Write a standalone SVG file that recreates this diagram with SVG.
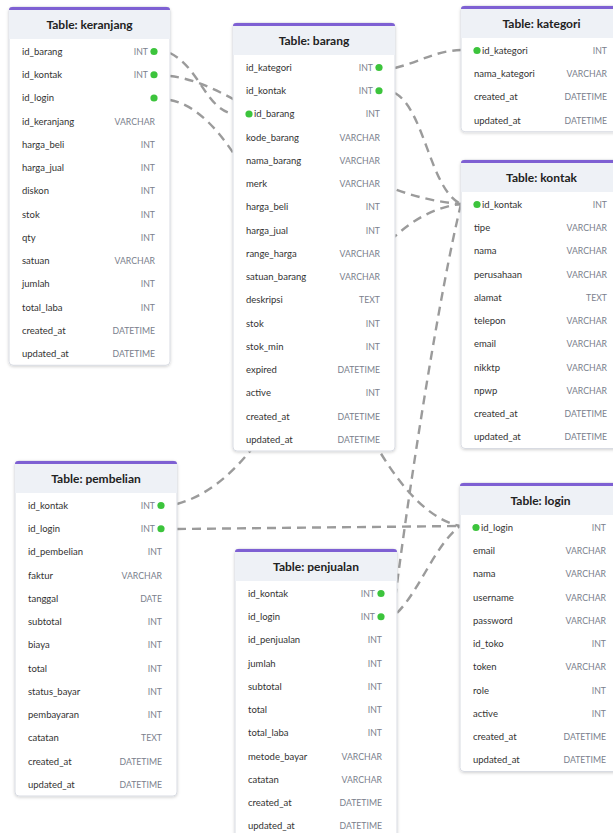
<svg xmlns="http://www.w3.org/2000/svg" width="613" height="833" viewBox="0 0 613 833">
<defs>
<filter id="sh" x="-10%" y="-10%" width="120%" height="120%"><feDropShadow dx="0" dy="1" stdDeviation="1.5" flood-color="#000" flood-opacity="0.18"/></filter>
<style>
.box{fill:#fff;stroke:#d8dbe2;stroke-width:1;filter:url(#sh)}
.hd{fill:#eef1f6}
.bar{fill:#7e60d3}
.h{font-family:Lato,"Open Sans",sans-serif;font-weight:700;font-size:12px;fill:#222;text-anchor:middle}
.n{font-family:Lato,"Open Sans",sans-serif;font-size:9.5px;fill:#333}
.t{font-family:Lato,"Open Sans",sans-serif;font-size:8.7px;fill:#7a808c;text-anchor:end}
.pk{fill:#3cc43c}
.c{fill:none;stroke:#9b9b9b;stroke-width:2.4;stroke-dasharray:9 6}
</style>
</defs>
<rect width="613" height="833" fill="#fff"/>
<g id="connectors">
<path class="c" d="M170,53 C200,68 205,108 233,114"/>
<path class="c" d="M170,76 C250,85 340,195 461,204"/>
<path class="c" d="M170,100 C280,120 340,500 460,526"/>
<path class="c" d="M395,68 C425,60 435,51 461,50"/>
<path class="c" d="M395,93 C425,110 430,190 461,204"/>
<path class="c" d="M177,504 C300,470 330,220 461,204"/>
<path class="c" d="M177,529 L460,526"/>
<path class="c" d="M461,204 C440,290 410,480 395,600"/>
<path class="c" d="M397,613 C420,590 435,545 460,526"/>
</g>

<g id="keranjang" transform="translate(9,7)">
<rect class="box" x="0" y="0" width="161" height="358.25" rx="4"/>
<path class="hd" d="M0,4 a4,4 0 0 1 4,-4 h153 a4,4 0 0 1 4,4 v28 h-161z"/>
<path class="bar" d="M0,3 a3,3 0 0 1 3,-3 h155 a3,3 0 0 1 3,3 z"/>
<text class="h" x="80.5" y="22">Table: keranjang</text>
<text class="n" x="13" y="47.8">id_barang</text><text class="t" x="139" y="47.8">INT</text><circle class="pk" cx="145" cy="44.5" r="3.6"/>
<text class="n" x="13" y="71.05">id_kontak</text><text class="t" x="139" y="71.05">INT</text><circle class="pk" cx="145" cy="67.75" r="3.6"/>
<text class="n" x="13" y="94.3">id_login</text><circle class="pk" cx="145" cy="91" r="3.6"/>
<text class="n" x="13" y="117.55">id_keranjang</text><text class="t" x="146" y="117.55">VARCHAR</text>
<text class="n" x="13" y="140.8">harga_beli</text><text class="t" x="146" y="140.8">INT</text>
<text class="n" x="13" y="164.05">harga_jual</text><text class="t" x="146" y="164.05">INT</text>
<text class="n" x="13" y="187.3">diskon</text><text class="t" x="146" y="187.3">INT</text>
<text class="n" x="13" y="210.55">stok</text><text class="t" x="146" y="210.55">INT</text>
<text class="n" x="13" y="233.8">qty</text><text class="t" x="146" y="233.8">INT</text>
<text class="n" x="13" y="257.05">satuan</text><text class="t" x="146" y="257.05">VARCHAR</text>
<text class="n" x="13" y="280.3">jumlah</text><text class="t" x="146" y="280.3">INT</text>
<text class="n" x="13" y="303.55">total_laba</text><text class="t" x="146" y="303.55">INT</text>
<text class="n" x="13" y="326.8">created_at</text><text class="t" x="146" y="326.8">DATETIME</text>
<text class="n" x="13" y="350.05">updated_at</text><text class="t" x="146" y="350.05">DATETIME</text>
</g>

<g id="barang" transform="translate(233,23)">
<rect class="box" x="0" y="0" width="162" height="428" rx="4"/>
<path class="hd" d="M0,4 a4,4 0 0 1 4,-4 h154 a4,4 0 0 1 4,4 v28 h-162z"/>
<path class="bar" d="M0,3 a3,3 0 0 1 3,-3 h156 a3,3 0 0 1 3,3 z"/>
<text class="h" x="81" y="22">Table: barang</text>
<text class="n" x="13" y="47.8">id_kategori</text><text class="t" x="140" y="47.8">INT</text><circle class="pk" cx="146" cy="44.5" r="3.6"/>
<text class="n" x="13" y="71.05">id_kontak</text><text class="t" x="140" y="71.05">INT</text><circle class="pk" cx="146" cy="67.75" r="3.6"/>
<circle class="pk" cx="16" cy="91" r="3.6"/><text class="n" x="21" y="94.3">id_barang</text><text class="t" x="147" y="94.3">INT</text>
<text class="n" x="13" y="117.55">kode_barang</text><text class="t" x="147" y="117.55">VARCHAR</text>
<text class="n" x="13" y="140.8">nama_barang</text><text class="t" x="147" y="140.8">VARCHAR</text>
<text class="n" x="13" y="164.05">merk</text><text class="t" x="147" y="164.05">VARCHAR</text>
<text class="n" x="13" y="187.3">harga_beli</text><text class="t" x="147" y="187.3">INT</text>
<text class="n" x="13" y="210.55">harga_jual</text><text class="t" x="147" y="210.55">INT</text>
<text class="n" x="13" y="233.8">range_harga</text><text class="t" x="147" y="233.8">VARCHAR</text>
<text class="n" x="13" y="257.05">satuan_barang</text><text class="t" x="147" y="257.05">VARCHAR</text>
<text class="n" x="13" y="280.3">deskripsi</text><text class="t" x="147" y="280.3">TEXT</text>
<text class="n" x="13" y="303.55">stok</text><text class="t" x="147" y="303.55">INT</text>
<text class="n" x="13" y="326.8">stok_min</text><text class="t" x="147" y="326.8">INT</text>
<text class="n" x="13" y="350.05">expired</text><text class="t" x="147" y="350.05">DATETIME</text>
<text class="n" x="13" y="373.3">active</text><text class="t" x="147" y="373.3">INT</text>
<text class="n" x="13" y="396.55">created_at</text><text class="t" x="147" y="396.55">DATETIME</text>
<text class="n" x="13" y="419.8">updated_at</text><text class="t" x="147" y="419.8">DATETIME</text>
</g>

<g id="kategori" transform="translate(461,6)">
<rect class="box" x="0" y="0" width="161" height="125.75" rx="4"/>
<path class="hd" d="M0,4 a4,4 0 0 1 4,-4 h153 a4,4 0 0 1 4,4 v28 h-161z"/>
<path class="bar" d="M0,3 a3,3 0 0 1 3,-3 h155 a3,3 0 0 1 3,3 z"/>
<text class="h" x="80.5" y="22">Table: kategori</text>
<circle class="pk" cx="16" cy="44.5" r="3.6"/><text class="n" x="21" y="47.8">id_kategori</text><text class="t" x="146" y="47.8">INT</text>
<text class="n" x="13" y="71.05">nama_kategori</text><text class="t" x="146" y="71.05">VARCHAR</text>
<text class="n" x="13" y="94.3">created_at</text><text class="t" x="146" y="94.3">DATETIME</text>
<text class="n" x="13" y="117.55">updated_at</text><text class="t" x="146" y="117.55">DATETIME</text>
</g>

<g id="kontak" transform="translate(461,160)">
<rect class="box" x="0" y="0" width="161" height="288.5" rx="4"/>
<path class="hd" d="M0,4 a4,4 0 0 1 4,-4 h153 a4,4 0 0 1 4,4 v28 h-161z"/>
<path class="bar" d="M0,3 a3,3 0 0 1 3,-3 h155 a3,3 0 0 1 3,3 z"/>
<text class="h" x="80.5" y="22">Table: kontak</text>
<circle class="pk" cx="16" cy="44.5" r="3.6"/><text class="n" x="21" y="47.8">id_kontak</text><text class="t" x="146" y="47.8">INT</text>
<text class="n" x="13" y="71.05">tipe</text><text class="t" x="146" y="71.05">VARCHAR</text>
<text class="n" x="13" y="94.3">nama</text><text class="t" x="146" y="94.3">VARCHAR</text>
<text class="n" x="13" y="117.55">perusahaan</text><text class="t" x="146" y="117.55">VARCHAR</text>
<text class="n" x="13" y="140.8">alamat</text><text class="t" x="146" y="140.8">TEXT</text>
<text class="n" x="13" y="164.05">telepon</text><text class="t" x="146" y="164.05">VARCHAR</text>
<text class="n" x="13" y="187.3">email</text><text class="t" x="146" y="187.3">VARCHAR</text>
<text class="n" x="13" y="210.55">nikktp</text><text class="t" x="146" y="210.55">VARCHAR</text>
<text class="n" x="13" y="233.8">npwp</text><text class="t" x="146" y="233.8">VARCHAR</text>
<text class="n" x="13" y="257.05">created_at</text><text class="t" x="146" y="257.05">DATETIME</text>
<text class="n" x="13" y="280.3">updated_at</text><text class="t" x="146" y="280.3">DATETIME</text>
</g>

<g id="pembelian" transform="translate(15,461)">
<rect class="box" x="0" y="0" width="162" height="335" rx="4"/>
<path class="hd" d="M0,4 a4,4 0 0 1 4,-4 h154 a4,4 0 0 1 4,4 v28 h-162z"/>
<path class="bar" d="M0,3 a3,3 0 0 1 3,-3 h156 a3,3 0 0 1 3,3 z"/>
<text class="h" x="81" y="22">Table: pembelian</text>
<text class="n" x="13" y="47.8">id_kontak</text><text class="t" x="140" y="47.8">INT</text><circle class="pk" cx="146" cy="44.5" r="3.6"/>
<text class="n" x="13" y="71.05">id_login</text><text class="t" x="140" y="71.05">INT</text><circle class="pk" cx="146" cy="67.75" r="3.6"/>
<text class="n" x="13" y="94.3">id_pembelian</text><text class="t" x="147" y="94.3">INT</text>
<text class="n" x="13" y="117.55">faktur</text><text class="t" x="147" y="117.55">VARCHAR</text>
<text class="n" x="13" y="140.8">tanggal</text><text class="t" x="147" y="140.8">DATE</text>
<text class="n" x="13" y="164.05">subtotal</text><text class="t" x="147" y="164.05">INT</text>
<text class="n" x="13" y="187.3">biaya</text><text class="t" x="147" y="187.3">INT</text>
<text class="n" x="13" y="210.55">total</text><text class="t" x="147" y="210.55">INT</text>
<text class="n" x="13" y="233.8">status_bayar</text><text class="t" x="147" y="233.8">INT</text>
<text class="n" x="13" y="257.05">pembayaran</text><text class="t" x="147" y="257.05">INT</text>
<text class="n" x="13" y="280.3">catatan</text><text class="t" x="147" y="280.3">TEXT</text>
<text class="n" x="13" y="303.55">created_at</text><text class="t" x="147" y="303.55">DATETIME</text>
<text class="n" x="13" y="326.8">updated_at</text><text class="t" x="147" y="326.8">DATETIME</text>
</g>

<g id="penjualan" transform="translate(235,549)">
<rect class="box" x="0" y="0" width="162" height="288.5" rx="4"/>
<path class="hd" d="M0,4 a4,4 0 0 1 4,-4 h154 a4,4 0 0 1 4,4 v28 h-162z"/>
<path class="bar" d="M0,3 a3,3 0 0 1 3,-3 h156 a3,3 0 0 1 3,3 z"/>
<text class="h" x="81" y="22">Table: penjualan</text>
<text class="n" x="13" y="47.8">id_kontak</text><text class="t" x="140" y="47.8">INT</text><circle class="pk" cx="146" cy="44.5" r="3.6"/>
<text class="n" x="13" y="71.05">id_login</text><text class="t" x="140" y="71.05">INT</text><circle class="pk" cx="146" cy="67.75" r="3.6"/>
<text class="n" x="13" y="94.3">id_penjualan</text><text class="t" x="147" y="94.3">INT</text>
<text class="n" x="13" y="117.55">jumlah</text><text class="t" x="147" y="117.55">INT</text>
<text class="n" x="13" y="140.8">subtotal</text><text class="t" x="147" y="140.8">INT</text>
<text class="n" x="13" y="164.05">total</text><text class="t" x="147" y="164.05">INT</text>
<text class="n" x="13" y="187.3">total_laba</text><text class="t" x="147" y="187.3">INT</text>
<text class="n" x="13" y="210.55">metode_bayar</text><text class="t" x="147" y="210.55">VARCHAR</text>
<text class="n" x="13" y="233.8">catatan</text><text class="t" x="147" y="233.8">VARCHAR</text>
<text class="n" x="13" y="257.05">created_at</text><text class="t" x="147" y="257.05">DATETIME</text>
<text class="n" x="13" y="280.3">updated_at</text><text class="t" x="147" y="280.3">DATETIME</text>
</g>

<g id="login" transform="translate(460,483)">
<rect class="box" x="0" y="0" width="161" height="288.5" rx="4"/>
<path class="hd" d="M0,4 a4,4 0 0 1 4,-4 h153 a4,4 0 0 1 4,4 v28 h-161z"/>
<path class="bar" d="M0,3 a3,3 0 0 1 3,-3 h155 a3,3 0 0 1 3,3 z"/>
<text class="h" x="80.5" y="22">Table: login</text>
<circle class="pk" cx="16" cy="44.5" r="3.6"/><text class="n" x="21" y="47.8">id_login</text><text class="t" x="146" y="47.8">INT</text>
<text class="n" x="13" y="71.05">email</text><text class="t" x="146" y="71.05">VARCHAR</text>
<text class="n" x="13" y="94.3">nama</text><text class="t" x="146" y="94.3">VARCHAR</text>
<text class="n" x="13" y="117.55">username</text><text class="t" x="146" y="117.55">VARCHAR</text>
<text class="n" x="13" y="140.8">password</text><text class="t" x="146" y="140.8">VARCHAR</text>
<text class="n" x="13" y="164.05">id_toko</text><text class="t" x="146" y="164.05">INT</text>
<text class="n" x="13" y="187.3">token</text><text class="t" x="146" y="187.3">VARCHAR</text>
<text class="n" x="13" y="210.55">role</text><text class="t" x="146" y="210.55">INT</text>
<text class="n" x="13" y="233.8">active</text><text class="t" x="146" y="233.8">INT</text>
<text class="n" x="13" y="257.05">created_at</text><text class="t" x="146" y="257.05">DATETIME</text>
<text class="n" x="13" y="280.3">updated_at</text><text class="t" x="146" y="280.3">DATETIME</text>
</g>
</svg>
